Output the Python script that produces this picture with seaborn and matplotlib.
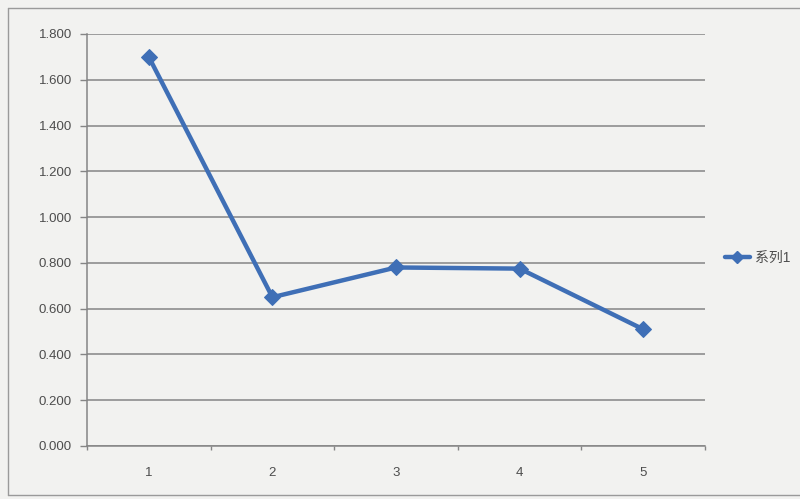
import matplotlib
matplotlib.use("Agg")
import matplotlib.pyplot as plt
from matplotlib.lines import Line2D
import seaborn as sns
import pandas as pd

categories = ["1", "2", "3", "4", "5"]
values = [1.700, 0.650, 0.780, 0.775, 0.510]
series_name = "系列1"
y_ticks = [0.0, 0.2, 0.4, 0.6, 0.8, 1.0, 1.2, 1.4, 1.6, 1.8]

sns.set_style("white")
plt.rcParams["font.family"] = ["Liberation Sans", "Noto Sans CJK SC", "DejaVu Sans"]

bg = "#f2f2f0"
line_color = "#3f6fb6"
grid_color = "#858585"
text_color = "#4d4d4d"
frame_color = "#9a9a9a"

df = pd.DataFrame({"pos": range(len(categories)), "value": values})

fig = plt.figure(figsize=(8, 4.99), dpi=100, facecolor=bg)
ax = fig.add_axes([87 / 800, 53 / 499, 618 / 800, 412 / 499])
ax.set_facecolor(bg)

# outer chart frame (left, top and bottom edges)
W, H = 800, 499
frame_pts = [((8, 8), (W, 8)), ((8, 8), (8, 495)), ((8, 495), (W, 495))]
for (x0, y0), (x1, y1) in frame_pts:
    fig.add_artist(Line2D([x0 / W, x1 / W], [1 - y0 / H, 1 - y1 / H],
                          transform=fig.transFigure, color=frame_color,
                          linewidth=1.0))

sns.lineplot(data=df, x="pos", y="value", ax=ax, color=line_color,
             linewidth=3.2, marker="D", markersize=8.5,
             markeredgecolor=line_color, legend=False)

ax.set_xlim(-0.5, len(categories) - 0.5)
ax.set_ylim(0, 1.8)
ax.set_yticks(y_ticks)
ax.set_yticklabels([f"{v:.3f}" for v in y_ticks])
ax.set_xticks(range(len(categories)))
ax.set_xticklabels(categories)
ax.set_xlabel("")
ax.set_ylabel("")

ax.yaxis.grid(True, color=grid_color, linewidth=1.1)
ax.xaxis.grid(False)
ax.set_axisbelow(True)

for side in ["top", "right"]:
    ax.spines[side].set_visible(False)
for side in ["left", "bottom"]:
    ax.spines[side].set_color(grid_color)
    ax.spines[side].set_linewidth(1.1)

ax.tick_params(axis="y", which="major", length=5, width=1, color=grid_color,
               labelsize=9.5, labelcolor=text_color, pad=6, left=True)
ax.tick_params(axis="x", which="major", length=0, labelsize=9.5,
               labelcolor=text_color, pad=15)
# category boundary tick marks
ax.set_xticks([i + 0.5 for i in range(-1, len(categories))], minor=True)
ax.tick_params(axis="x", which="minor", length=3, width=1, color=grid_color,
               bottom=True)

handle = Line2D([], [], color=line_color, linewidth=3.2, marker="D",
                markersize=6, markeredgecolor=line_color)
fig.legend([handle], [series_name], loc="center left",
           bbox_to_anchor=(712 / 800, 1 - 258 / 499), frameon=False,
           fontsize=10, labelcolor=text_color, handlelength=1.8,
           handletextpad=0.4)

fig.savefig("out.png", dpi=100, facecolor=bg)
